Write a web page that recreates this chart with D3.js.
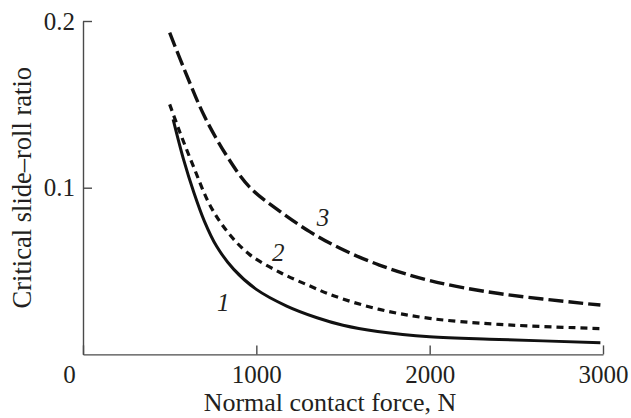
<!DOCTYPE html>
<html>
<head>
<meta charset="utf-8">
<script src="https://cdn.jsdelivr.net/npm/d3@7"></script>
<style>
  html, body { margin: 0; padding: 0; background: #fff; }
  svg { display: block; }
</style>
</head>
<body>
<svg id="chart" width="631" height="418"></svg>
<script>
// ---- data ----
const xTicks = [0, 1000, 2000, 3000];
const yTicks = [0.1, 0.2];
const xTitle = "Normal contact force, N";
const yTitle = "Critical slide\u2013roll ratio";
const curveLabels = ["1", "2", "3"];

const force1 = [520, 580, 640, 700, 770, 870, 1000, 1175, 1350, 1500, 1700, 2000, 2400, 2985];
const ratio1 = [0.141, 0.117, 0.097, 0.080, 0.065, 0.051, 0.039, 0.029, 0.022, 0.0175, 0.0138, 0.0106, 0.009, 0.007];

const force2 = [500, 560, 640, 730, 830, 960, 1140, 1310, 1450, 1710, 2000, 2400, 2985];
const ratio2 = [0.150, 0.133, 0.112, 0.090, 0.074, 0.060, 0.049, 0.041, 0.035, 0.027, 0.0216, 0.018, 0.0155];

const force3 = [500, 600, 700, 830, 960, 1140, 1310, 1480, 1710, 2000, 2400, 2985];
const ratio3 = [0.193, 0.167, 0.143, 0.119, 0.1005, 0.0855, 0.0735, 0.0638, 0.0536, 0.0443, 0.0365, 0.0296];

// label anchor positions in data units
const labelForce = [809, 1127, 1385];
const labelRatio = [0.0307, 0.0607, 0.0818];

// ---- layout ----
const FONT = "'Liberation Serif', 'Times New Roman', serif";
const TXT = "#231f20";
const svg = d3.select("#chart");
const x = d3.scaleLinear().domain([0, 3000]).range([83, 603]);
const y = d3.scaleLinear().domain([0, 0.2]).range([354.4, 21]);

const axisColor = "#4a4a4a";

// y axis
const gy = svg.append("g")
  .attr("transform", `translate(${x(0)},0)`)
  .call(d3.axisLeft(y).tickValues(yTicks).tickSizeInner(-9).tickSizeOuter(0).tickPadding(8)
        .tickFormat(d3.format(".1f")))
  .attr("font-family", null).attr("font-size", null);
gy.select(".domain").attr("stroke", axisColor).attr("stroke-width", 1.4);
gy.selectAll(".tick line").attr("stroke", axisColor).attr("stroke-width", 1.4);
gy.selectAll(".tick text").style("font-size", "25px").attr("dy", "0.33em")
  .style("font-family", FONT).style("fill", TXT);

// x axis
const gx = svg.append("g")
  .attr("transform", `translate(0,${y(0)})`)
  .call(d3.axisBottom(x).tickValues(xTicks).tickSizeInner(-9).tickSizeOuter(0).tickPadding(11)
        .tickFormat(d3.format("d")))
  .attr("font-family", null).attr("font-size", null);
gx.select(".domain").attr("stroke", axisColor).attr("stroke-width", 1.4);
gx.selectAll(".tick line").attr("stroke", axisColor).attr("stroke-width", 1.4);
gx.selectAll(".tick text").style("font-size", "25px")
  .style("font-family", FONT).style("fill", TXT)
  .attr("dx", d => d === 0 ? -14 : 0);

// axis titles
svg.append("text")
  .attr("x", 330).attr("y", 411)
  .attr("text-anchor", "middle")
  .style("font-size", "26px").style("font-family", FONT).style("fill", TXT)
  .text(xTitle);

svg.append("text")
  .attr("transform", `translate(31,${(y(0) + y(0.2)) / 2}) rotate(-90)`)
  .attr("text-anchor", "middle")
  .style("font-size", "26.5px").style("font-family", FONT).style("fill", TXT)
  .text(yTitle);

// curves
const series = [
  { f: force1, r: ratio1, dash: null, w: 3 },
  { f: force2, r: ratio2, dash: "7,5", w: 3.2 },
  { f: force3, r: ratio3, dash: "15,5", w: 3.4 }
];
const line = d3.line().x(d => x(d[0])).y(d => y(d[1])).curve(d3.curveCatmullRom.alpha(0.5));

svg.append("g").selectAll("path")
  .data(series)
  .join("path")
  .attr("d", s => line(s.f.map((v, i) => [v, s.r[i]])))
  .attr("fill", "none")
  .attr("stroke", "#111")
  .attr("stroke-width", s => s.w)
  .attr("stroke-dasharray", s => s.dash);

// curve labels
svg.append("g").selectAll("text")
  .data(curveLabels)
  .join("text")
  .attr("x", (d, i) => x(labelForce[i]))
  .attr("y", (d, i) => y(labelRatio[i]))
  .attr("dy", "0.33em")
  .attr("text-anchor", "middle")
  .style("font-size", "25px")
  .style("font-style", "italic")
  .style("font-family", FONT).style("fill", TXT)
  .text(d => d);
</script>
</body>
</html>
